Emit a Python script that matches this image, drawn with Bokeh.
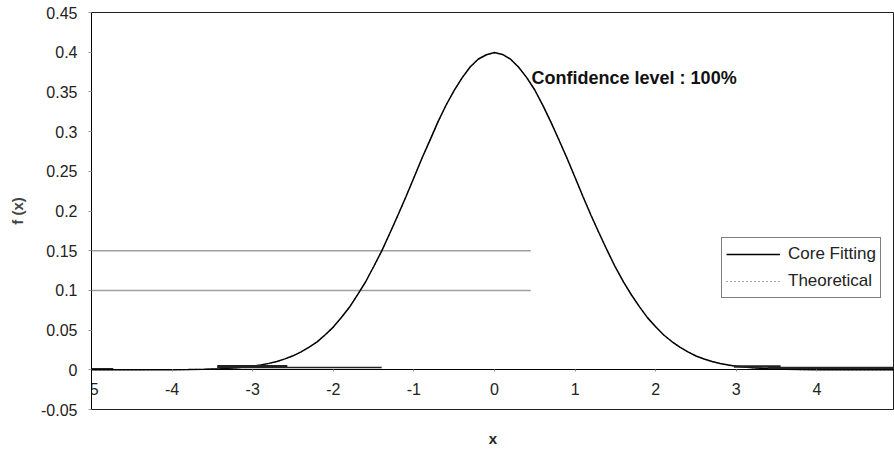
from bokeh.plotting import figure
from bokeh.models import (Range1d, LinearAxis, FixedTicker, Legend, LegendItem, Label)
from bokeh.embed import file_html
from bokeh.resources import INLINE

# ---------------- data ----------------
x_vals = [-5.0, -4.8, -4.6, -4.4, -4.2, -4.0, -3.8, -3.6, -3.4, -3.2,
          -3.0, -2.9, -2.8, -2.7, -2.6, -2.5, -2.4, -2.3, -2.2, -2.1,
          -2.0, -1.9, -1.8, -1.7, -1.6, -1.5, -1.4, -1.3, -1.2, -1.1,
          -1.0, -0.9, -0.8, -0.7, -0.6, -0.5, -0.4, -0.3, -0.2, -0.1,
          0.0, 0.1, 0.2, 0.3, 0.4, 0.5, 0.6, 0.7, 0.8, 0.9,
          1.0, 1.1, 1.2, 1.3, 1.4, 1.5, 1.6, 1.7, 1.8, 1.9,
          2.0, 2.1, 2.2, 2.3, 2.4, 2.5, 2.6, 2.7, 2.8, 2.9,
          3.0, 3.2, 3.4, 3.6, 3.8, 4.0, 4.2, 4.4, 4.6, 4.8, 5.0]

core_fitting = [0.0000, 0.0000, 0.0000, 0.0000, 0.0000, 0.0001, 0.0003, 0.0006, 0.0013, 0.0025,
                0.0046, 0.0061, 0.0081, 0.0105, 0.0138, 0.0176, 0.0226, 0.0285, 0.0352, 0.0442,
                0.0538, 0.0658, 0.0787, 0.0943, 0.1106, 0.1298, 0.1495, 0.1716, 0.1944, 0.2176,
                0.2418, 0.2664, 0.2893, 0.3126, 0.3335, 0.3518, 0.3680, 0.3817, 0.3914, 0.3968,
                0.3995, 0.3972, 0.3912, 0.3811, 0.3680, 0.3524, 0.3330, 0.3120, 0.2895, 0.2664,
                0.2422, 0.2176, 0.1940, 0.1716, 0.1500, 0.1292, 0.1108, 0.0942, 0.0792, 0.0654,
                0.0542, 0.0438, 0.0356, 0.0285, 0.0225, 0.0174, 0.0137, 0.0105, 0.0080, 0.0061,
                0.0045, 0.0025, 0.0013, 0.0006, 0.0003, 0.0001, 0.0000, 0.0000, 0.0000, 0.0000, 0.0000]

theoretical = [0.0000, 0.0000, 0.0000, 0.0000, 0.0001, 0.0001, 0.0003, 0.0006, 0.0012, 0.0024,
               0.0044, 0.0060, 0.0079, 0.0104, 0.0136, 0.0175, 0.0224, 0.0283, 0.0355, 0.0440,
               0.0540, 0.0656, 0.0790, 0.0940, 0.1109, 0.1295, 0.1497, 0.1714, 0.1942, 0.2179,
               0.2420, 0.2661, 0.2897, 0.3123, 0.3332, 0.3521, 0.3683, 0.3814, 0.3910, 0.3970,
               0.3989, 0.3970, 0.3910, 0.3814, 0.3683, 0.3521, 0.3332, 0.3123, 0.2897, 0.2661,
               0.2420, 0.2179, 0.1942, 0.1714, 0.1497, 0.1295, 0.1109, 0.0940, 0.0790, 0.0656,
               0.0540, 0.0440, 0.0355, 0.0283, 0.0224, 0.0175, 0.0136, 0.0104, 0.0079, 0.0060,
               0.0044, 0.0024, 0.0012, 0.0006, 0.0003, 0.0001, 0.0001, 0.0000, 0.0000, 0.0000, 0.0000]

# flat tail pieces of the core fitting near zero
tail_x0 = [-5.0, -3.44, -3.44, 2.97, 3.39]
tail_x1 = [-4.73, -2.57, -1.40, 3.55, 5.0]
tail_y = [0.001, 0.0045, 0.003, 0.004, 0.002]
tail_w = [2.0, 2.5, 1.5, 2.5, 3.0]

# stray grey rules
rule_y = [0.15, 0.10]
rule_x0 = [-5.0, -5.0]
rule_x1 = [0.45, 0.45]

x_ticks = [-5, -4, -3, -2, -1, 0, 1, 2, 3, 4, 5]
x_tick_labels = ["-5", "-4", "-3", "-2", "-1", "0", "1", "2", "3", "4", "5"]
y_ticks = [-0.05, 0.0, 0.05, 0.1, 0.15, 0.2, 0.25, 0.3, 0.35, 0.4, 0.45]
y_tick_labels = ["-0.05", "0", "0.05", "0.1", "0.15", "0.2", "0.25", "0.3", "0.35", "0.4", "0.45"]

FONT = "Liberation Sans"

p = figure(width=894, height=450, x_range=Range1d(-5, 4.963), y_range=Range1d(-0.05, 0.45),
           output_backend="svg", toolbar_location=None,
           x_axis_type=None, y_axis_type=None,
           min_border_left=91, min_border_right=0, min_border_top=12, min_border_bottom=41)
p.xgrid.visible = False
p.ygrid.visible = False
p.outline_line_color = "#222222"
p.outline_line_width = 1
p.background_fill_color = "white"
p.border_fill_color = "white"

# y axis
yax = LinearAxis(ticker=FixedTicker(ticks=y_ticks),
                 major_label_overrides={t: l for t, l in zip(y_ticks, y_tick_labels)},
                 axis_label="f (x)")
yax.axis_line_color = "black"
yax.major_tick_out = 3
yax.major_tick_in = 0
yax.major_tick_line_color = "#999999"
yax.minor_tick_line_color = None
yax.major_label_standoff = 11
yax.major_label_text_font = FONT
yax.major_label_text_font_size = "16px"
yax.major_label_text_color = "#222222"
yax.axis_label_text_font = FONT
yax.axis_label_text_font_style = "bold"
yax.axis_label_text_font_size = "15px"
yax.axis_label_standoff = 12
p.add_layout(yax, "left")

# x axis title (axis below the frame carrying only the title)
xlab = LinearAxis(ticker=FixedTicker(ticks=[]), axis_label="x")
xlab.axis_line_color = None
xlab.major_tick_out = 0
xlab.major_tick_in = 0
xlab.minor_tick_line_color = None
xlab.major_label_text_font_size = "0px"
xlab.major_label_standoff = 0
xlab.axis_label_standoff = 20
xlab.axis_label_text_font = FONT
xlab.axis_label_text_font_style = "bold"
xlab.axis_label_text_font_size = "15px"
xlab.axis_label_text_color = "#222222"
p.add_layout(xlab, "below")

# x axis drawn at y = 0
xax = LinearAxis(ticker=FixedTicker(ticks=x_ticks), fixed_location=0,
                 major_label_overrides={t: l for t, l in zip(x_ticks, x_tick_labels)})
xax.axis_line_color = "black"
xax.major_tick_out = 2
xax.major_tick_in = 0
xax.major_tick_line_color = "#999999"
xax.minor_tick_line_color = None
xax.major_label_standoff = 11
xax.major_label_text_font = FONT
xax.major_label_text_font_size = "16px"
xax.major_label_text_color = "#222222"
p.add_layout(xax, "below")

# stray grey rules
p.segment(x0=rule_x0, y0=rule_y, x1=rule_x1, y1=rule_y, line_color="#a0a0a0", line_width=1.5)

# curves
r_th = p.line(x_vals, theoretical, line_color="#555555", line_width=1.2, line_dash="1 3")
r_cf = p.line(x_vals, core_fitting, line_color="black", line_width=1.5)
p.segment(x0=tail_x0, y0=tail_y, x1=tail_x1, y1=tail_y, line_color="#222222",
          line_width=tail_w)

p.add_layout(Label(x=0.46, y=0.368, text="Confidence level : 100%", text_font=FONT,
                   text_font_style="bold", text_font_size="18px", text_baseline="middle",
                   text_align="left", text_color="#111111"))

legend = Legend(items=[LegendItem(label="Core Fitting", renderers=[r_cf]),
                       LegendItem(label="Theoretical", renderers=[r_th])],
                location=(630, 111))
legend.border_line_color = "black"
legend.border_line_width = 1
legend.background_fill_color = "white"
legend.background_fill_alpha = 1
legend.label_text_font = FONT
legend.label_text_font_size = "17px"
legend.label_text_color = "#222222"
legend.glyph_width = 54
legend.glyph_height = 24
legend.label_standoff = 8
legend.spacing = 3
legend.padding = 4
legend.margin = 0
p.add_layout(legend, "center")

open("out.html", "w").write(file_html(p, INLINE))
